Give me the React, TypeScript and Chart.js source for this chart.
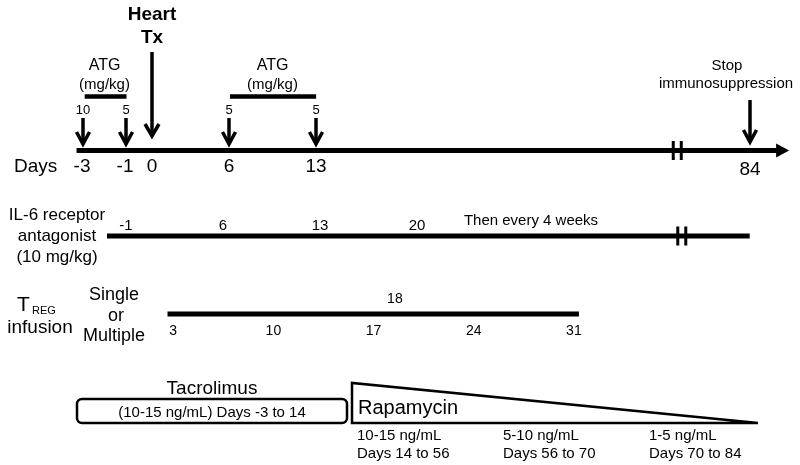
import { useEffect, useRef } from 'react';
import { Chart, registerables, LinearScale } from 'chart.js';

// ---------------- data ----------------
const AXIS_DAYS = [-3, -1, 0, 6, 13, 84];
const AXIS_DAY_LABELS = ['-3', '-1', '0', '6', '13', '84'];
const ATG_DAYS = [-3, -1, 6, 13];
const ATG_DOSES = ['10', '5', '5', '5'];
const ATG_COURSES = [[-3, -1], [6, 13]];
const TX_DAY = 0;
const STOP_DAY = 84;
const IL6_DAYS = [-1, 6, 13, 20];
const IL6_NOTE = 'Then every 4 weeks';
const TREG_DAYS_BELOW = [3, 10, 17, 24, 31];
const TREG_DAYS_ABOVE = [18];
const TAC_TEXT = '(10-15 ng/mL) Days -3 to 14';
const RAPA_LEVELS = ['10-15 ng/mL', '5-10 ng/mL', '1-5 ng/mL'];
const RAPA_PERIODS = ['Days 14 to 56', 'Days 56 to 70', 'Days 70 to 84'];

// ---------------- layout ----------------
// slot (0-800) of each AXIS_DAYS entry on the broken (not to scale) day axis
const AXIS_SLOTS = [83, 126, 152, 229, 316, 750];
const AXIS_START_DAY = -3.3;
const AXIS_LINE_END_DAY = 88.4;
const AXIS_TIP_DAY = 90.4;
const AXIS_BREAK_DAY = 72.1;
const IL6_LINE = [-2.37, 44.0];
const IL6_BREAK_DAY = 39.1;
const TREG_LINE = [2.6, 31.35];
const ROW = { axis: 150.5, atgBar: 96.5, il6: 236, treg: 314 };
const FONT = '"Liberation Sans", Arial, Helvetica, sans-serif';

class BrokenDayScale extends LinearScale {
  static id = 'brokenDay';
  static defaults = {};
  getPixelForValue(value: number) {
    const d = AXIS_DAYS;
    const p = AXIS_SLOTS;
    let i = 0;
    if (value > d[d.length - 1]) i = d.length - 2;
    else while (i < d.length - 2 && value > d[i + 1]) i++;
    const t = (value - d[i]) / (d[i + 1] - d[i]);
    const slot = p[i] + t * (p[i + 1] - p[i]);
    return this.left + (slot / 800) * this.width;
  }
  getValueForPixel(pixel: number) {
    const slot = ((pixel - this.left) / this.width) * 800;
    const d = AXIS_DAYS;
    const p = AXIS_SLOTS;
    let i = 0;
    while (i < p.length - 2 && slot > p[i + 1]) i++;
    return d[i] + ((slot - p[i]) / (p[i + 1] - p[i])) * (d[i + 1] - d[i]);
  }
}

Chart.register(...registerables, BrokenDayScale);

function txt(ctx: CanvasRenderingContext2D, s: string, x: number, y: number, size: number, align: CanvasTextAlign = 'center', bold = false) {
  ctx.font = `${bold ? 'bold ' : ''}${size}px ${FONT}`;
  ctx.textAlign = align;
  ctx.textBaseline = 'alphabetic';
  ctx.fillStyle = '#000';
  ctx.fillText(s, x, y);
}

function downArrow(ctx: CanvasRenderingContext2D, x: number, yTop: number, yTip: number, hw: number, hh: number, lw: number) {
  ctx.strokeStyle = '#000';
  ctx.lineWidth = lw;
  ctx.lineCap = 'butt';
  ctx.lineJoin = 'miter';
  ctx.beginPath();
  ctx.moveTo(x, yTop);
  ctx.lineTo(x, yTip - 1);
  ctx.stroke();
  ctx.beginPath();
  ctx.moveTo(x - hw, yTip - hh);
  ctx.lineTo(x, yTip);
  ctx.lineTo(x + hw, yTip - hh);
  ctx.stroke();
}

function breakMarks(ctx: CanvasRenderingContext2D, x: number, yc: number) {
  ctx.fillStyle = '#000';
  ctx.fillRect(x - 5.5, yc - 9.5, 3, 19);
  ctx.fillRect(x + 2.5, yc - 9.5, 3, 19);
}

const drawPlugin = {
  id: 'timelineDecor',
  afterDatasetsDraw(chart: any) {
    const ctx: CanvasRenderingContext2D = chart.ctx;
    const xd = chart.scales.xDays;
    const xi = chart.scales.xIl6;
    const xt = chart.scales.xTreg;
    const ys = chart.scales.y;
    const Y = (v: number) => ys.getPixelForValue(v);
    ctx.save();

    // ---- top row ----
    const ay = Y(ROW.axis);
    const tip = xd.getPixelForValue(AXIS_TIP_DAY);
    ctx.fillStyle = '#000';
    ctx.beginPath();
    ctx.moveTo(tip, ay);
    ctx.lineTo(tip - 13, ay - 7);
    ctx.lineTo(tip - 13, ay + 7);
    ctx.closePath();
    ctx.fill();
    breakMarks(ctx, xd.getPixelForValue(AXIS_BREAK_DAY), ay);

    txt(ctx, 'Days', 14, Y(172), 19, 'left');
    AXIS_DAYS.forEach((d, i) => {
      txt(ctx, AXIS_DAY_LABELS[i], xd.getPixelForValue(d) + (d < 0 ? -1 : 0), Y(d === STOP_DAY ? 174.5 : 172), 19);
    });

    ATG_DAYS.forEach((d, i) => {
      const x = xd.getPixelForValue(d);
      downArrow(ctx, x, Y(118), Y(144), 6.5, 12, 3.5);
      txt(ctx, ATG_DOSES[i], x, Y(114), 13);
    });
    ATG_COURSES.forEach(([a, b]) => {
      const xc = (xd.getPixelForValue(a) + xd.getPixelForValue(b)) / 2;
      txt(ctx, 'ATG', xc, Y(69.5), 16);
      txt(ctx, '(mg/kg)', xc, Y(89), 15);
    });

    const tx = xd.getPixelForValue(TX_DAY);
    downArrow(ctx, tx, Y(52), Y(136), 7, 12, 3.5);
    txt(ctx, 'Heart', tx, Y(20), 19, 'center', true);
    txt(ctx, 'Tx', tx, Y(43), 19, 'center', true);

    const sx = xd.getPixelForValue(STOP_DAY);
    downArrow(ctx, sx, Y(100), Y(142), 6.5, 12, 3.5);
    txt(ctx, 'Stop', sx - 23, Y(69.5), 15);
    txt(ctx, 'immunosuppression', sx - 24, Y(88), 15);

    // ---- IL-6 row ----
    txt(ctx, 'IL-6 receptor', 57, Y(219.5), 17);
    txt(ctx, 'antagonist', 57, Y(241), 17);
    txt(ctx, '(10 mg/kg)', 57, Y(262), 17);
    IL6_DAYS.forEach((d) => txt(ctx, String(d), xi.getPixelForValue(d), Y(229.5), 15));
    txt(ctx, IL6_NOTE, 531, Y(225), 15);
    breakMarks(ctx, xi.getPixelForValue(IL6_BREAK_DAY), Y(ROW.il6));

    // ---- Treg row ----
    txt(ctx, 'T', 17, Y(311), 21, 'left');
    txt(ctx, 'REG', 32, Y(314), 11, 'left');
    txt(ctx, 'infusion', 40, Y(333), 19);
    txt(ctx, 'Single', 114, Y(300), 18);
    txt(ctx, 'or', 116, Y(320.5), 18);
    txt(ctx, 'Multiple', 114, Y(341), 18);
    TREG_DAYS_BELOW.forEach((d) => txt(ctx, String(d), xt.getPixelForValue(d), Y(335), 14));
    TREG_DAYS_ABOVE.forEach((d) => txt(ctx, String(d), xt.getPixelForValue(d) + 7, Y(303), 14));

    // ---- bottom row: tacrolimus box, rapamycin wedge ----
    const bx0 = 77, bx1 = 347, by0 = Y(399), by1 = Y(423);
    ctx.strokeStyle = '#000';
    ctx.lineWidth = 2.5;
    ctx.beginPath();
    (ctx as any).roundRect(bx0, by0, bx1 - bx0, by1 - by0, 5);
    ctx.stroke();
    txt(ctx, 'Tacrolimus', (bx0 + bx1) / 2, Y(393.5), 19);
    txt(ctx, TAC_TEXT, (bx0 + bx1) / 2, Y(416.5), 15);

    const rx0 = 352, rx1 = 758, ryTop = Y(383), ryBase = Y(423);
    ctx.lineWidth = 2.5;
    ctx.lineJoin = 'miter';
    ctx.beginPath();
    ctx.moveTo(rx1, ryBase);
    ctx.lineTo(rx0, ryBase);
    ctx.lineTo(rx0, ryTop);
    ctx.lineTo(rx1, ryBase);
    ctx.stroke();
    txt(ctx, 'Rapamycin', rx0 + 6, Y(413.5), 20, 'left');
    RAPA_LEVELS.forEach((lv, i) => {
      const x = rx0 + 5 + i * 146;
      txt(ctx, lv, x, Y(439.5), 15, 'left');
      txt(ctx, RAPA_PERIODS[i], x, Y(457.5), 15, 'left');
    });

    ctx.restore();
  },
};

const line = (xAxisID: string, a: number, b: number, y: number, w: number) => ({
  data: [{ x: a, y }, { x: b, y }],
  xAxisID,
  yAxisID: 'y',
  showLine: true,
  borderColor: '#000',
  backgroundColor: '#000',
  borderWidth: w,
  borderCapStyle: 'butt',
  pointRadius: 0,
  clip: false,
});

export default function App() {
  const ref = useRef<HTMLCanvasElement>(null);
  useEffect(() => {
    document.body.style.margin = '0';
    const chart = new Chart(ref.current as HTMLCanvasElement, {
      type: 'scatter',
      data: {
        datasets: [
          line('xDays', AXIS_START_DAY, AXIS_LINE_END_DAY, ROW.axis, 5),
          ...ATG_COURSES.map(([a, b]) => line('xDays', a + 0.08, b + 0.02, ROW.atgBar, 4.5)),
          line('xIl6', IL6_LINE[0], IL6_LINE[1], ROW.il6, 5),
          line('xTreg', TREG_LINE[0], TREG_LINE[1], ROW.treg, 5),
        ] as any,
      },
      options: {
        animation: false,
        responsive: false,
        devicePixelRatio: 1,
        events: [],
        layout: { padding: 0 },
        plugins: { legend: { display: false }, tooltip: { enabled: false }, title: { display: false } },
        scales: {
          xDays: { type: 'brokenDay', display: false, min: -10, max: 100 } as any,
          xIl6: { type: 'linear', display: false, min: -10.09, max: 47.63 },
          xTreg: { type: 'linear', display: false, min: -9.106, max: 46.8 },
          y: { type: 'linear', display: false, min: 0, max: 465, reverse: true },
        },
      },
      plugins: [drawPlugin],
    });
    return () => chart.destroy();
  }, []);
  return (
    <div style={{ width: 800, height: 465, background: '#fff' }}>
      <canvas ref={ref} width={800} height={465} />
    </div>
  );
}
